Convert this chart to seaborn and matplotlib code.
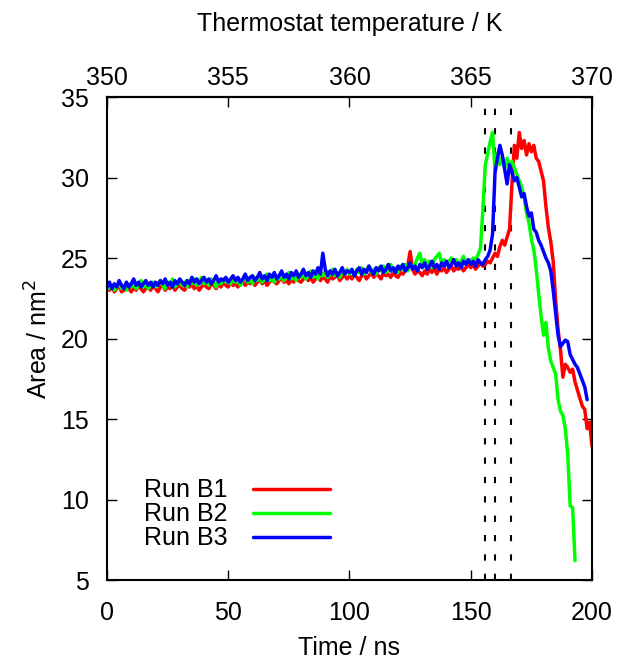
import pandas as pd
import seaborn as sns
import matplotlib.pyplot as plt
import numpy as np

run_b1 = [
    23.3, 23.0, 23.2, 22.9, 23.1, 23.3, 22.9, 23.0, 23.2, 23.1,
    22.9, 23.2, 23.0, 23.3, 23.1, 22.9, 23.1, 23.2, 23.0, 23.3,
    23.1, 22.9, 23.2, 23.3, 23.0, 23.2, 23.1, 23.4, 23.0, 23.2,
    23.3, 23.1, 23.0, 23.3, 23.2, 23.4, 23.1, 23.3, 23.0, 23.2,
    23.4, 23.2, 23.1, 23.4, 23.3, 23.1, 23.4, 23.2, 23.5, 23.3,
    23.2, 23.5, 23.3, 23.4, 23.2, 23.5, 23.6, 23.3, 23.5, 23.4,
    23.6, 23.3, 23.5, 23.7, 23.4, 23.6, 23.3, 23.5, 23.7, 23.5,
    23.4, 23.6, 23.8, 23.5, 23.6, 23.4, 23.7, 23.5, 23.8, 23.6,
    23.5, 23.7, 23.9, 23.6, 23.8, 23.5, 23.7, 23.9, 23.6, 23.8,
    23.7, 23.5, 23.9, 23.7, 23.8, 24.0, 23.6, 23.8, 23.9, 23.7,
    23.9, 23.7, 24.0, 23.8, 23.6, 23.9, 24.0, 23.7, 23.9, 24.1,
    23.8, 24.0, 23.9, 23.7, 24.1, 23.9, 24.0, 23.8, 24.1, 23.9,
    23.8, 24.1, 24.0, 24.2, 24.5, 25.4, 24.3, 24.0, 24.2, 24.1,
    23.9, 24.2, 24.0, 24.3, 24.1, 24.4, 24.0, 24.3, 24.2, 24.4,
    24.1, 24.3, 24.5, 24.2, 24.4, 24.3, 24.5, 24.2, 24.4, 24.6,
    24.4, 24.6, 24.3, 24.5, 24.7, 24.5, 24.6, 24.8, 24.7, 25.0,
    25.3, 25.1, 25.7, 26.1, 25.8, 26.3, 26.8, 29.6, 32.0, 31.2,
    32.8, 31.8, 32.3, 31.4, 32.1, 31.6, 32.0, 31.2,
    31.0, 30.4, 29.8, 28.2, 26.9, 26.0, 24.8, 22.4, 20.6, 19.3,
    17.6, 18.4, 18.2, 17.9, 18.1, 17.3, 16.8, 16.3, 15.8, 15.6,
    14.4, 14.8, 13.3,
]

run_b2 = [
    23.4, 23.1, 23.3, 23.0, 23.2, 23.5, 23.1, 23.3, 23.0, 23.4,
    23.2, 23.5, 23.1, 23.3, 23.6, 23.2, 23.4, 23.1, 23.3, 23.5,
    23.2, 23.4, 23.6, 23.3, 23.1, 23.5, 23.3, 23.7, 23.2, 23.4,
    23.6, 23.3, 23.5, 23.2, 23.6, 23.4, 23.7, 23.3, 23.5, 23.8,
    23.4, 23.6, 23.3, 23.7, 23.5, 23.2, 23.6, 23.4, 23.7, 23.5,
    23.6, 23.4, 23.8, 23.5, 23.7, 23.3, 23.6, 23.9, 23.5, 23.7,
    23.4, 23.8, 23.6, 23.9, 23.5, 23.7, 24.0, 23.6, 23.8, 23.5,
    23.9, 23.7, 24.0, 23.6, 23.8, 24.1, 23.7, 23.9, 23.6, 24.0,
    23.8, 24.1, 23.7, 23.9, 24.2, 23.8, 24.0, 23.7, 24.1, 23.9,
    24.2, 23.8, 24.0, 24.3, 23.9, 24.1, 23.8, 24.2, 24.0, 24.3,
    24.0, 24.2, 23.9, 24.3, 24.1, 24.4, 24.0, 24.2, 24.5, 24.1,
    24.3, 24.0, 24.4, 24.2, 24.5, 24.1, 24.3, 24.6, 24.2, 24.4,
    24.1, 24.5, 24.3, 24.6, 24.2, 24.7, 24.4, 24.6, 25.0, 25.3,
    24.6, 24.9, 24.5, 24.8, 24.4, 24.9, 25.1, 25.3, 24.7, 24.9,
    24.6, 24.8, 25.0, 24.7, 24.9, 24.6, 24.8, 25.1, 24.7, 24.9,
    24.8, 25.0, 24.9, 25.2, 25.6, 28.0, 30.8, 31.5, 32.2, 32.8,
    30.4, 31.5, 30.8, 31.3, 30.6,
    31.2, 30.7, 31.0, 30.6, 30.2, 29.8, 29.4, 28.8, 27.8, 27.2,
    26.2, 25.5, 24.3, 22.8, 21.4, 20.2, 21.0, 19.4, 18.6, 18.2,
    17.8, 16.2, 15.5, 15.2, 14.4, 12.8, 9.6, 9.5, 6.2,
]

run_b3 = [
    23.2, 23.5, 23.1, 23.4, 23.2, 23.6, 23.3, 23.1, 23.5, 23.2,
    23.4, 23.7, 23.3, 23.5, 23.2, 23.4, 23.6, 23.3, 23.5, 23.2,
    23.5, 23.3, 23.6, 23.4, 23.7, 23.3, 23.5, 23.2, 23.6, 23.4,
    23.7, 23.5, 23.3, 23.6, 23.4, 23.8, 23.5, 23.7, 23.4, 23.6,
    23.8, 23.5, 23.7, 23.4, 23.6, 23.9, 23.5, 23.7, 23.6, 23.8,
    23.5, 23.7, 23.9, 23.6, 23.8, 23.5, 23.7, 24.0, 23.6, 23.8,
    23.9, 23.6, 23.8, 24.1, 23.7, 23.9, 23.6, 24.0, 23.8, 24.1,
    23.7, 23.9, 24.2, 23.8, 24.0, 23.7, 24.1, 23.9, 24.2, 23.8,
    24.0, 24.3, 23.9, 24.1, 23.8, 24.2, 24.0, 24.4, 24.0, 25.3,
    24.3, 23.9, 24.2, 24.0, 24.3, 23.9, 24.1, 24.4, 24.0, 24.2,
    24.1, 24.3, 23.9, 24.2, 24.4, 24.0, 24.3, 24.1, 24.5, 24.2,
    24.0, 24.4, 24.2, 24.5, 24.1, 24.3, 24.6, 24.2, 24.4, 24.1,
    24.5, 24.3, 24.6, 24.2, 24.4, 24.7, 24.3, 24.5, 24.2, 24.6,
    24.4, 24.7, 24.3, 24.5, 24.8, 24.4, 24.6, 24.3, 24.7, 24.5,
    24.8, 24.4, 24.6, 24.9, 24.5, 24.7, 24.4, 24.8, 24.6, 24.9,
    24.6, 24.8, 24.5, 24.9, 24.7, 24.6, 24.9, 25.1, 25.5, 26.5,
    30.3, 31.2, 32.0, 31.4, 30.5, 29.6, 30.8, 30.3, 29.8, 30.0,
    29.4, 28.8, 29.0, 28.2, 27.6, 27.8, 26.8, 26.6, 26.1, 25.8,
    25.4, 25.0, 24.7, 24.2, 23.0, 21.6, 20.2, 19.5, 19.7, 19.9,
    19.8, 19.0, 18.7, 18.4, 18.2, 17.8, 17.4, 17.0, 16.2,
]

runs = {'Run B1': run_b1, 'Run B2': run_b2, 'Run B3': run_b3}
run_colors = ['#ff0000', '#00ff00', '#0000ff']
transition_times = [155.7, 160.2, 166.6]
temp_ticks = [350, 355, 360, 365, 370]

frames = []
for name, vals in runs.items():
    frames.append(pd.DataFrame({'time': np.arange(len(vals)), 'area': vals, 'run': name}))
df = pd.concat(frames, ignore_index=True)

sns.set_style('ticks')
plt.rcParams['font.family'] = ['Liberation Sans', 'DejaVu Sans']
plt.rcParams['font.size'] = 18
plt.rcParams['axes.linewidth'] = 1.5
for key in ['text.color', 'axes.labelcolor', 'xtick.color', 'ytick.color', 'axes.edgecolor']:
    plt.rcParams[key] = 'black'

fig = plt.figure(figsize=(6.21, 6.65), dpi=100)
ax = fig.add_axes([0.1723, 0.1278, 0.781, 0.7263])

for t in transition_times:
    ax.axvline(t, color='black', linestyle=(0, (3.0, 6.3)), linewidth=1.5, zorder=1)

sns.lineplot(data=df, x='time', y='area', hue='run', palette=run_colors,
             linewidth=2.5, ax=ax, zorder=2)

ax.set_xlim(0, 200)
ax.set_ylim(5, 35)
ax.set_xticks([0, 50, 100, 150, 200])
ax.set_yticks([5, 10, 15, 20, 25, 30, 35])
ax.set_xlabel('Time / ns', fontsize=18, labelpad=8)
ax.set_ylabel('Area / nm$^2$', fontsize=18, labelpad=6)
ax.tick_params(axis='x', direction='in', length=7, width=1.0, labelsize=18, pad=15,
               top=False)
ax.tick_params(axis='y', direction='in', length=7, width=1.0, labelsize=18, pad=13,
               right=True)

top = ax.secondary_xaxis('top', functions=(lambda t: 350 + t / 10, lambda k: (k - 350) * 10))
top.set_xticks(temp_ticks)
top.tick_params(direction='in', length=7, width=1.0, labelsize=18, pad=5)
top.set_xlabel('Thermostat temperature / K', fontsize=18, labelpad=25)

ax.legend(loc='lower left', bbox_to_anchor=(0.03, 0.015), frameon=False,
          markerfirst=False, handlelength=3.1, handletextpad=1.0,
          labelspacing=0.0, fontsize=18, title=None)

plt.savefig('out.png', dpi=100)
